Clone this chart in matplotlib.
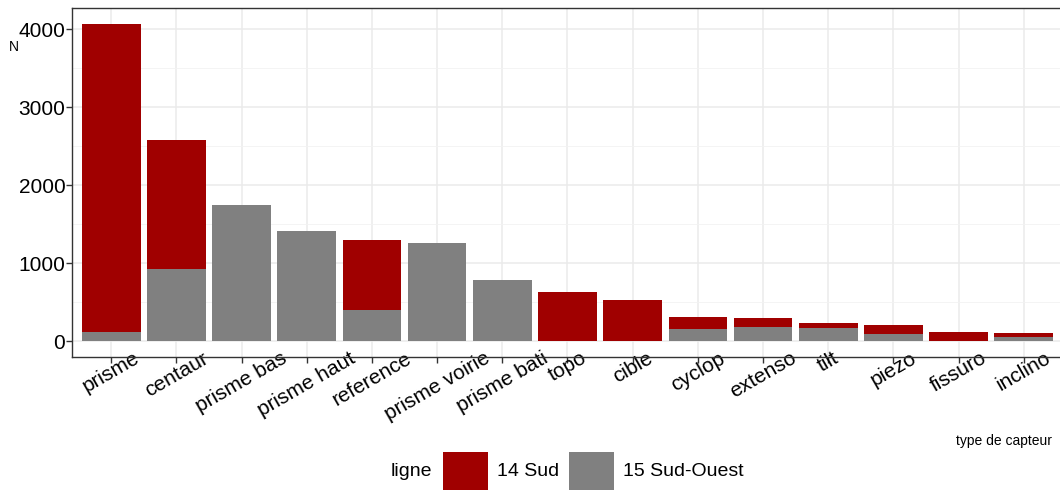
import matplotlib.pyplot as plt
import matplotlib.transforms as mtransforms
from matplotlib.patches import Rectangle
import numpy as np

plt.rcParams["font.family"] = ["Liberation Sans", "DejaVu Sans"]

categories = ["prisme", "centaur", "prisme bas", "prisme haut", "reference",
              "prisme voirie", "prisme bati", "topo", "cible", "cyclop",
              "extenso", "tilt", "piezo", "fissuro", "inclino"]
# counts per line
sud_ouest_15 = [120, 930, 1750, 1418, 405, 1265, 790, 0, 0, 150, 175, 172, 86, 0, 47]
sud_14 = [3950, 1652, 0, 0, 898, 0, 0, 624, 522, 154, 116, 55, 115, 111, 52]

legend_title = "ligne"
series_labels = ["14 Sud", "15 Sud-Ouest"]
red = "#A00000"
grey = "#808080"


def main() -> None:
    fig = plt.figure(figsize=(10.6, 4.9), dpi=100)
    ax = fig.add_axes([72.2 / 1060, 1 - 357 / 490, 990.6 / 1060, 349 / 490])

    x = np.arange(1, len(categories) + 1)
    ax.bar(x, sud_ouest_15, width=0.9, color=grey, zorder=3)
    ax.bar(x, sud_14, width=0.9, bottom=sud_ouest_15, color=red, zorder=3)

    totals = np.array(sud_ouest_15) + np.array(sud_14)
    top = totals.max()
    ax.set_xlim(0.4, len(categories) + 0.6)
    ax.set_ylim(-0.05 * top, top * 1.05)

    ax.set_xticks(x)
    ax.set_xticklabels(categories, rotation=30, ha="center", va="top",
                       fontsize=15, color="black")
    shift = mtransforms.ScaledTranslation(4 / 100, 0, fig.dpi_scale_trans)
    for lbl in ax.get_xticklabels():
        lbl.set_transform(lbl.get_transform() + shift)
    ax.set_yticks([0, 1000, 2000, 3000, 4000])
    ax.set_yticks([500, 1500, 2500, 3500], minor=True)
    ax.tick_params(axis="y", labelsize=15, labelcolor="black")
    ax.tick_params(which="major", length=4, width=1, color="#333333", pad=1)
    ax.tick_params(axis="x", which="major", pad=-10)
    ax.tick_params(which="minor", length=0)

    ax.grid(True, which="major", color="#EBEBEB", linewidth=1.1, zorder=0)
    ax.grid(True, which="minor", axis="y", color="#F2F2F2", linewidth=0.6, zorder=0)
    ax.set_axisbelow(True)
    for s in ax.spines.values():
        s.set_color("#333333")
        s.set_linewidth(1.0)

    fig.text(14 / 1060, 1 - 47 / 490, "N", fontsize=10, ha="center", va="center")
    fig.text(1052 / 1060, 1 - 441 / 490, "type de capteur", fontsize=10,
             ha="right", va="center")

    # legend at bottom
    fig.text(432 / 1060, 1 - 471 / 490, legend_title, fontsize=14,
             ha="right", va="center")
    for x0, color, label in [(443, red, series_labels[0]),
                             (569, grey, series_labels[1])]:
        fig.add_artist(Rectangle((x0 / 1060, 0), 45 / 1060, 38 / 490,
                                 transform=fig.transFigure, color=color,
                                 linewidth=0))
        fig.text((x0 + 54) / 1060, 1 - 471 / 490, label, fontsize=14,
                 ha="left", va="center")

    fig.savefig("out.png", dpi=100)


if __name__ == "__main__":
    main()
